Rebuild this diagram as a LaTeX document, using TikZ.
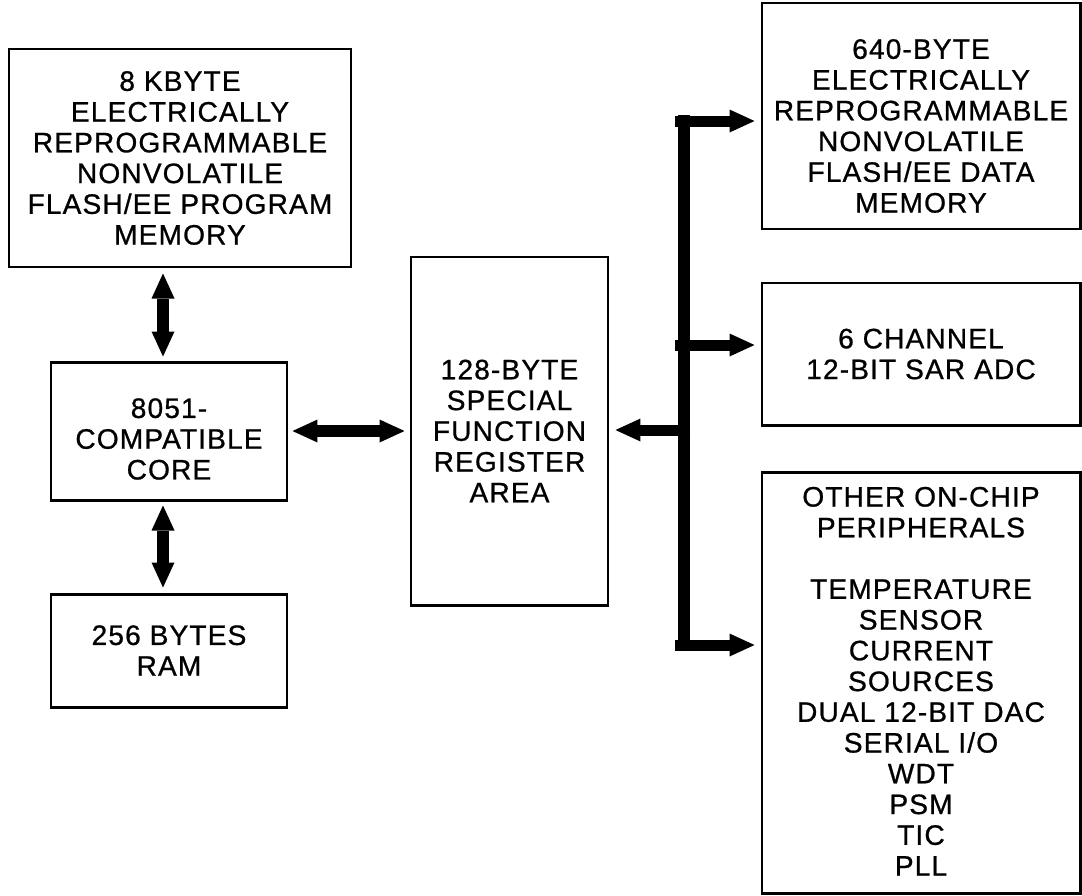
\documentclass[tikz,border=0pt]{standalone}
\usepackage{fontspec}
\setmainfont[LetterSpace=4,FakeBold=0.8]{Liberation Sans}
\usetikzlibrary{arrows.meta,positioning}

\begin{document}
\begin{tikzpicture}[
  block/.style={rectangle, draw, line width=1.7pt, align=center, inner sep=0pt, font=\fontsize{16}{17.5}\selectfont},
  blocktext/.style={align=center, inner sep=0pt, font=\fontsize{16}{17.5}\selectfont},
  arr/.style={line width=0.22cm, -{Triangle[length=0.5cm, width=0.46cm, line width=0pt]}, shorten >=0.12cm},
  dblarr/.style={line width=0.24cm, {Triangle[length=0.5cm, width=0.46cm, line width=0pt]}-{Triangle[length=0.5cm, width=0.46cm, line width=0pt]}, shorten <=0.08cm, shorten >=0.1cm},
  bus/.style={line width=0.24cm}
]
  \useasboundingbox (0,0) rectangle (21.64,-17.92);
  % left column
  \node[block, minimum width=6.84cm, minimum height=4.36cm] (progmem) at (3.6,-3.16) {8 KBYTE\\ELECTRICALLY\\REPROGRAMMABLE\\NONVOLATILE\\FLASH/EE PROGRAM\\MEMORY};
  \node[block, minimum width=4.72cm, minimum height=2.76cm] (core) at (3.38,-8.62) {};
  \node[blocktext] (coretext) at ([yshift=-0.16cm]core.center) {8051-\\COMPATIBLE\\CORE};
  \node[block, minimum width=4.72cm, minimum height=2.26cm] (ram) at (3.38,-13.01) {256 BYTES\\RAM};
  % middle
  \node[block, minimum width=3.94cm, minimum height=6.96cm] (sfr) at (10.19,-8.62) {128-BYTE\\SPECIAL\\FUNCTION\\REGISTER\\AREA};
  % right column
  \node[block, minimum width=6.36cm, minimum height=4.52cm] (datamem) at (18.42,-2.32) {};
  \node[blocktext] (datatext) at ([yshift=-0.2cm]datamem.center) {640-BYTE\\ELECTRICALLY\\REPROGRAMMABLE\\NONVOLATILE\\FLASH/EE DATA\\MEMORY};
  \node[block, minimum width=6.36cm, minimum height=2.84cm] (adc) at (18.42,-7.08) {6 CHANNEL\\12-BIT SAR ADC};
  \node[block, minimum width=6.36cm, minimum height=8.42cm] (other) at (18.42,-13.65) {};
  \node[blocktext, below=0.32cm of other.north] (othertext) {OTHER ON-CHIP\\PERIPHERALS\\[17.5pt]TEMPERATURE\\SENSOR\\CURRENT\\SOURCES\\DUAL 12-BIT DAC\\SERIAL I/O\\WDT\\PSM\\TIC\\PLL};
  % core connections
  \draw[dblarr] ([xshift=-0.12cm]core.north) -- ([xshift=-0.12cm]core.north |- progmem.south);
  \draw[dblarr] ([xshift=-0.12cm]core.south) -- ([xshift=-0.12cm]core.south |- ram.north);
  \draw[dblarr] (core.east) -- (sfr.west);
  % bus
  \coordinate (bustop) at (13.68,-2.3);
  \coordinate (busbot) at (13.68,-13.01);
  \draw[bus] (bustop) -- (busbot);
  \coordinate (tapdata) at (13.5,-2.42);
  \coordinate (tapadc) at (13.5,-6.9);
  \coordinate (tapsfr) at (13.8,-8.6);
  \coordinate (tapother) at (13.5,-12.9);
  \draw[arr] (tapdata) -- (tapdata -| datamem.west);
  \draw[arr] (tapadc) -- (tapadc -| adc.west);
  \draw[arr] (tapsfr) -- (tapsfr -| sfr.east);
  \draw[arr] (tapother) -- (tapother -| other.west);
\end{tikzpicture}
\end{document}
